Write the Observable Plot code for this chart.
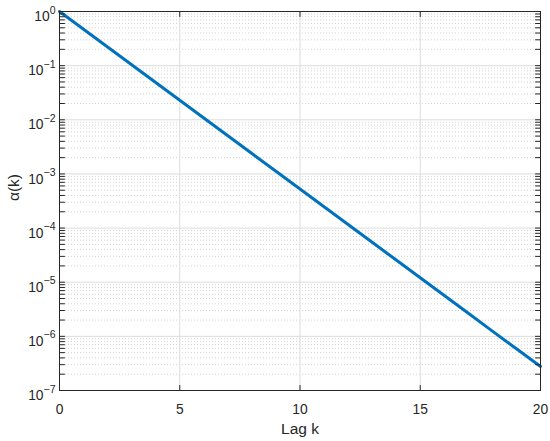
<!DOCTYPE html>
<html>
<head>
<meta charset="utf-8">
<script src="https://cdn.jsdelivr.net/npm/d3@7"></script>
<script src="https://cdn.jsdelivr.net/npm/@observablehq/plot@0.6"></script>
<style>
  html, body { margin: 0; padding: 0; background: #ffffff; }
  #chart { width: 550px; height: 441px; }
</style>
</head>
<body>
<div id="chart"></div>
<script>
// ---- data ----
const kValues = [0, 1, 2, 3, 4, 5, 6, 7, 8, 9, 10, 11, 12, 13, 14, 15, 16, 17, 18, 19, 20];
const alphaValues = [1, 0.47, 0.221, 0.104, 0.0488, 0.0229, 0.0108, 0.00507, 0.00238, 0.00112,
  5.26e-4, 2.47e-4, 1.16e-4, 5.47e-5, 2.57e-5, 1.21e-5, 5.68e-6, 2.67e-6, 1.25e-6, 5.9e-7, 2.78e-7];
const xTicks = [0, 5, 10, 15, 20];
const yExponents = [0, -1, -2, -3, -4, -5, -6, -7];
const minorMultipliers = [2, 3, 4, 5, 6, 7, 8, 9];
const xLabel = "Lag k";
const yLabel = "α(k)";

const data = kValues.map((k, i) => ({k, a: alphaValues[i]}));
const yDecades = yExponents.map(e => Math.pow(10, e));
const yMinor = yExponents.slice(1).flatMap(e => minorMultipliers.map(m => m * Math.pow(10, e)));

const axisColor = "#262626";
const tickShape = { draw(context, l) { context.moveTo(0, 0); context.lineTo(0, -l); } };

const chart = Plot.plot({
  width: 550,
  height: 441,
  marginLeft: 59,
  marginRight: 10,
  marginTop: 11,
  marginBottom: 51,
  style: { fontFamily: "'Liberation Sans', Arial, Helvetica, sans-serif", background: "#ffffff", color: axisColor },
  x: { domain: [0, 20], axis: null },
  y: { type: "log", domain: [1e-7, 1], axis: null },
  marks: [
    Plot.ruleY(yMinor, { y: d => d, stroke: "#c8c8c8", strokeDasharray: "1,2", strokeWidth: 0.8 }),
    Plot.ruleY(yDecades, { y: d => d, stroke: "#dcdcdc", strokeWidth: 1 }),
    Plot.ruleX(xTicks, { x: d => d, stroke: "#dcdcdc", strokeWidth: 1 }),
    Plot.line(data, { x: "k", y: "a", stroke: "#0072BD", strokeWidth: 3 }),
    Plot.frame({ stroke: axisColor, strokeWidth: 1 }),
    Plot.vector(yDecades.concat(yMinor), { y: d => d, frameAnchor: "left", rotate: 90, length: 5, anchor: "start", shape: tickShape, stroke: axisColor, strokeWidth: 1 }),
    Plot.vector(yDecades.concat(yMinor), { y: d => d, frameAnchor: "right", rotate: -90, length: 5, anchor: "start", shape: tickShape, stroke: axisColor, strokeWidth: 1 }),
    Plot.vector(xTicks, { x: d => d, frameAnchor: "bottom", rotate: 0, length: 5, anchor: "start", shape: tickShape, stroke: axisColor, strokeWidth: 1 }),
    Plot.vector(xTicks, { x: d => d, frameAnchor: "top", rotate: 180, length: 5, anchor: "start", shape: tickShape, stroke: axisColor, strokeWidth: 1 }),
    Plot.text(xTicks, { x: d => d, text: d => String(d), frameAnchor: "bottom", lineAnchor: "top", dy: 14, fontSize: 13.8, fill: axisColor }),
    Plot.text(yDecades, { y: d => d, text: d => "10^" + Math.round(Math.log10(d)), frameAnchor: "left", textAnchor: "end", dx: -4, dy: 5.2, fontSize: 13.8, fill: axisColor }),
    Plot.text([yLabel], { text: d => d, frameAnchor: "left", dx: -45, rotate: -90, fontSize: 15.5, fill: axisColor }),
    Plot.text([xLabel], { text: d => d, frameAnchor: "bottom", lineAnchor: "top", dy: 32.5, fontSize: 15.5, fill: axisColor })
  ]
});

// render exponents as superscripts
chart.querySelectorAll("text").forEach(t => {
  const s = t.textContent;
  if (s.includes("^")) {
    const [base, exp] = s.split("^");
    const expText = exp.replace("-", "\u2212");
    while (t.firstChild) t.removeChild(t.firstChild);
    t.appendChild(document.createTextNode(base));
    const ts = document.createElementNS("http://www.w3.org/2000/svg", "tspan");
    ts.setAttribute("dy", "-7.5");
    ts.setAttribute("font-size", "10.5");
    ts.textContent = expText;
    t.appendChild(ts);
  }
});

document.getElementById("chart").appendChild(chart);
</script>
</body>
</html>
